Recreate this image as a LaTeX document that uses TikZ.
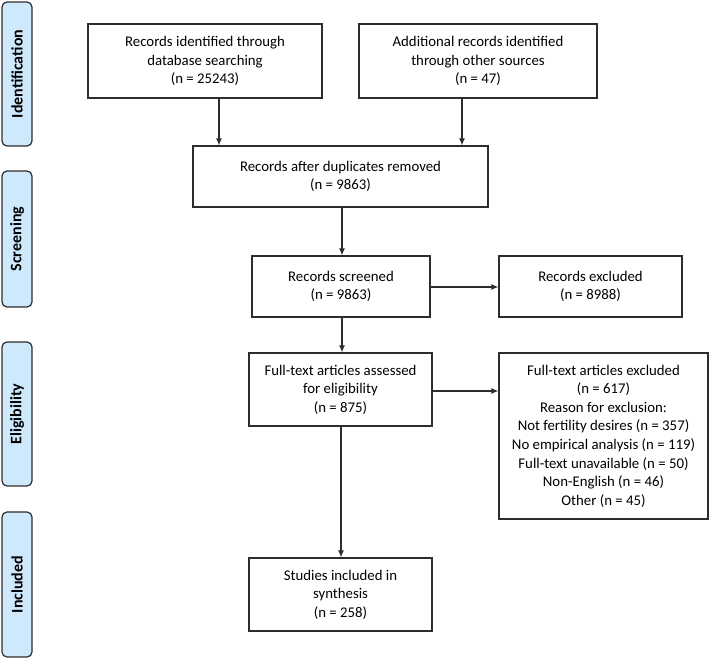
\documentclass[tikz,border=0pt]{standalone}
\usepackage{fontspec}
\setmainfont{Carlito}
\usetikzlibrary{arrows.meta}
\definecolor{barblue}{RGB}{207,233,252}
\definecolor{lineg}{RGB}{45,45,45}
\begin{document}
\begin{tikzpicture}[x=1pt,y=-1pt,
  box/.style={draw=lineg,line width=1.2pt,fill=white,align=center,inner sep=2pt,
    font=\fontsize{14.8}{18.6}\selectfont,text=black},
  bar/.style={draw=lineg,line width=1.2pt,fill=barblue,rounded corners=5pt},
  barlabel/.style={rotate=90,font=\fontsize{16}{18}\selectfont\bfseries},
  arr/.style={draw=lineg,line width=1.1pt,-{Latex[length=7pt,width=6pt]}}]
\useasboundingbox (0,0) rectangle (709,658);
% side bars
\node[bar,minimum width=30pt,minimum height=144pt] (b1) at (17,74) {};
\node[barlabel] at (b1) {Identification};
\node[bar,minimum width=30pt,minimum height=136pt] (b2) at (17,239) {};
\node[barlabel] at (b2) {Screening};
\node[bar,minimum width=30pt,minimum height=144pt] (b3) at (17,414) {};
\node[barlabel] at (b3) {Eligibility};
\node[bar,minimum width=30pt,minimum height=145pt] (b4) at (17,584.5) {};
\node[barlabel] at (b4) {Included};
% boxes
\node[box,minimum width=234pt,minimum height=74pt] (n1) at (205,61) {Records identified through\\database searching\\(n = 25243)};
\node[box,minimum width=238pt,minimum height=74pt] (n2) at (478,61) {Additional records identified\\through other sources\\(n = 47)};
\node[box,minimum width=295pt,minimum height=61pt] (n3) at (340.5,176.5) {Records after duplicates removed\\(n = 9863)};
\node[box,minimum width=178pt,minimum height=61pt] (n4) at (341,286.5) {Records screened\\(n = 9863)};
\node[box,minimum width=183pt,minimum height=61pt] (n5) at (590.5,286.5) {Records excluded\\(n = 8988)};
\node[box,minimum width=183pt,minimum height=73pt] (n6) at (340.5,389.5) {Full-text articles assessed\\for eligibility\\(n = 875)};
\node[box,minimum width=209pt,minimum height=166pt] (n7) at (603.5,436) {Full-text articles excluded\\(n = 617)\\Reason for exclusion:\\Not fertility desires (n = 357)\\No empirical analysis (n = 119)\\Full-text unavailable (n = 50)\\Non-English (n = 46)\\Other (n = 45)};
\node[box,minimum width=183pt,minimum height=73pt] (n8) at (340.5,594.5) {Studies included in\\synthesis\\(n = 258)};
% connectors
\draw[arr] (n1.south -| 219,0) -- (n3.north -| 219,0);
\draw[arr] (n2.south -| 462,0) -- (n3.north -| 462,0);
\draw[arr] (n3.south -| 342,0) -- (n4.north -| 342,0);
\draw[arr] (n4.south -| 342,0) -- (n6.north -| 342,0);
\draw[arr] (n6.south -| 341,0) -- (n8.north -| 341,0);
\draw[arr] (n4.east |- 0,287) -- (n5.west |- 0,287);
\draw[arr] (n6.east |- 0,391) -- (n7.west |- 0,391);
\end{tikzpicture}
\end{document}
